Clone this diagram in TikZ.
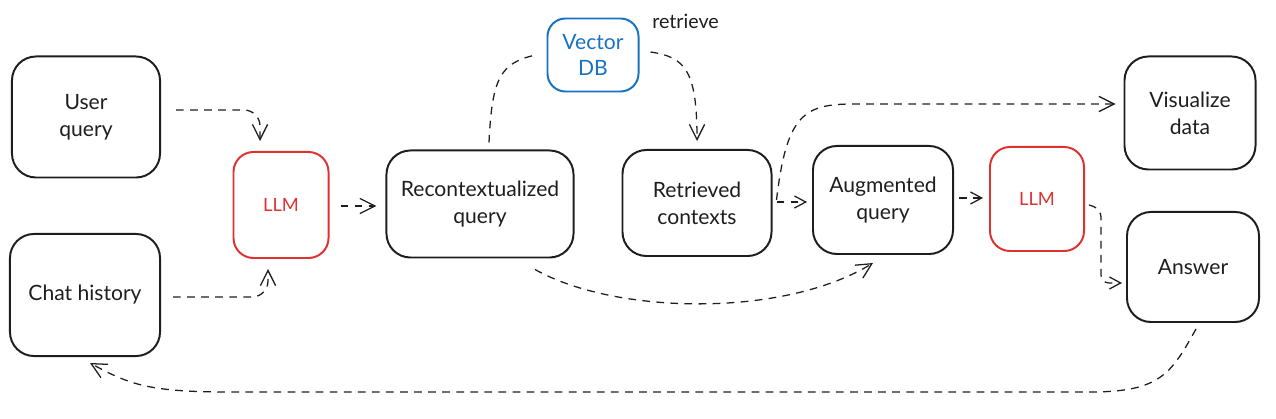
\documentclass[tikz,border=0pt]{standalone}
\usepackage{fontspec}
\setmainfont{Lato}
\usetikzlibrary{arrows.meta,positioning}
\definecolor{exblack}{RGB}{30,30,30}
\definecolor{exred}{RGB}{224,49,49}
\definecolor{exblue}{RGB}{25,113,194}
\tikzstyle{box} = [rectangle, rounded corners=0.6cm, draw=exblack, line width=1.4pt, text=exblack, align=center, inner sep=2pt, font=\fontsize{15}{19}\selectfont]
\tikzstyle{llm} = [box, rounded corners=0.5cm, draw=exred, text=exred, font=\fontsize{13}{15}\selectfont]
\tikzstyle{db} = [box, rounded corners=0.45cm, draw=exblue, text=exblue]
\tikzstyle{flow} = [line width=0.9pt, dash pattern=on 5.5pt off 4.5pt, color=exblack, -{Straight Barb[length=0.38cm,width=0.38cm]}]
\tikzstyle{flowshort} = [flow, -{Straight Barb[length=0.28cm,width=0.3cm]}]
\begin{document}
\begin{tikzpicture}[x=0.025cm, y=-0.025cm]
\useasboundingbox (0,0) rectangle (1276,419);
% Inputs
\node (uq) [box, minimum width=3.7cm, minimum height=3.025cm] at (86,117) {User\\query};
\node (ch) [box, minimum width=3.75cm, minimum height=3.05cm] at (85,295) {Chat history};
\node (llmA) [llm, minimum width=2.375cm, minimum height=2.65cm] at (281,205) {LLM};
\node (rq) [box, minimum width=4.675cm, minimum height=2.675cm] at (480,204) {Recontextualized\\query};
% Retrieval
\node (vdb) [db, minimum width=2.275cm, minimum height=1.825cm] at (593,55) {Vector\\DB};
\node (ret) [text=exblack, font=\fontsize{14}{16}\selectfont] at ([shift={(46,4)}]vdb.north east) {retrieve};
\node (rc) [box, minimum width=3.725cm, minimum height=2.65cm] at (697,203) {Retrieved\\contexts};
\node (aq) [box, minimum width=3.5cm, minimum height=2.7cm] at (883,200) {Augmented\\query};
\node (llmB) [llm, minimum width=2.35cm, minimum height=2.6cm] at (1037,199) {LLM};
% Outputs
\node (vis) [box, minimum width=3.275cm, minimum height=2.825cm] at (1190,113) {Visualize\\data};
\node (ans) [box, minimum width=3.3cm, minimum height=2.75cm] at (1193,267) {Answer};

\coordinate (visin) at ([shift={(-8,-9)}]vis.west);
\coordinate (visbend) at ([shift={(-262,0)}]visin);
\coordinate (fbA) at ([shift={(-103,69)}]ans.south);
\coordinate (fbB) at ([shift={(145,35)}]ch.south);

% Query rewriting
\draw[flow, rounded corners=0.4cm] ([shift={(15,-7)}]uq.east) -| ([shift={(-21,-10)}]llmA.north);
\draw[flow, rounded corners=0.4cm] ([shift={(12,2)}]ch.east) -| ([shift={(-13,10)}]llmA.south);
\draw[flow] ([shift={(11,1)}]llmA.east) -- ([shift={(-9,2)}]rq.west);

% Retrieval arrows
\draw[flow, -] ([shift={(9,-7)}]rq.north) .. controls +(3,-65) and +(-35,8) .. ([shift={(-11,0)}]vdb.west);
\draw[flow] ([shift={(11,-3)}]vdb.east) .. controls +(35,5) and +(0,-70) .. ([shift={(0,-8)}]rc.north);
\draw[flowshort] ([shift={(4,-1)}]rc.east) -- ([shift={(-5,2)}]aq.west);
\draw[flow] ([shift={(4,-3)}]rc.east) .. controls +(10,-85) and +(-50,0) .. (visbend) -- (visin);
\draw[flow] ([shift={(55,11)}]rq.south) .. controls +(80,45) and +(-90,55) .. ([shift={(-10,8)}]aq.south);

% Generation
\draw[flowshort] ([shift={(5,-2)}]aq.east) -- ([shift={(-6,-1)}]llmB.west);
\draw[flowshort, rounded corners=0.2cm] ([shift={(4,6)}]llmB.east) -- ++(12,4) |- ([shift={(-4,16)}]ans.west);
\draw[flow] ([shift={(3,6)}]ans.south) .. controls +(-25,45) and +(70,0) .. (fbA) -- (fbB) .. controls +(-80,0) and +(40,22) .. ([shift={(5,6)}]ch.south);
\end{tikzpicture}
\end{document}
